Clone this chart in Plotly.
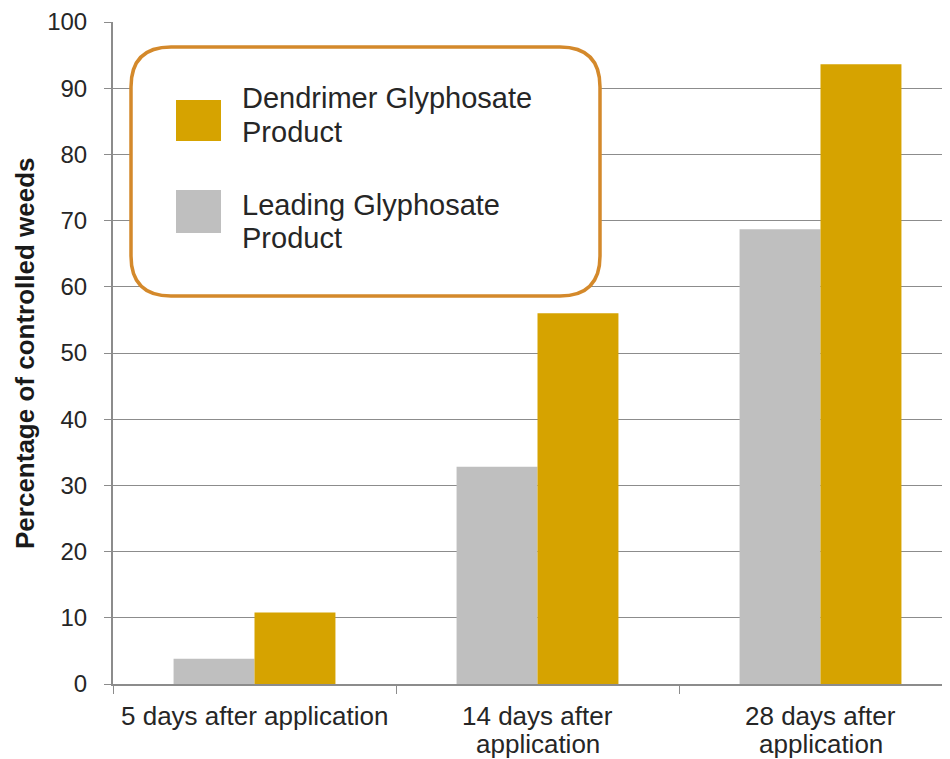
import plotly.graph_objects as go

# data
categories = ["5 days after application", "14 days after application", "28 days after application"]
label_lines = [["5 days after application"], ["14 days after", "application"], ["28 days after", "application"]]
leading_values = [3.8, 32.8, 68.7]
dendrimer_values = [10.8, 56.0, 93.6]
series_names = ["Leading Glyphosate Product", "Dendrimer Glyphosate Product"]
legend_lines = {series_names[1]: ["Dendrimer Glyphosate", "Product"],
                series_names[0]: ["Leading Glyphosate", "Product"]}

GOLD = '#D6A300'
GRAY = '#BFBFBF'
BORDER = '#D4892B'
AXIS = '#8C8C8C'
TEXT = '#262626'
FONT = 'Liberation Sans, Arial, sans-serif'

# the page body adds an 8px offset, so the figure is sized to fill the window from there
OFF = 8
W, H = 942, 751
ML, MR, MT, MB = 105, 0, 14, 75
PW, PH = W - ML - MR, H - MT - MB


def px_x(sx):
    """screen x pixel -> paper x"""
    return (sx - OFF - ML) / PW


def px_y(sy):
    """screen y pixel -> paper y"""
    return (H - MB - (sy - OFF)) / PH


def rounded_rect(x0, y0, x1, y1, r):
    """SVG path in paper coords for a rounded rectangle given in screen pixels"""
    pts = [
        ('M', x0 + r, y0), ('L', x1 - r, y0), ('Q', x1, y0, x1, y0 + r),
        ('L', x1, y1 - r), ('Q', x1, y1, x1 - r, y1), ('L', x0 + r, y1),
        ('Q', x0, y1, x0, y1 - r), ('L', x0, y0 + r), ('Q', x0, y0, x0 + r, y0),
    ]
    out = []
    for p in pts:
        cmd, coords = p[0], p[1:]
        xy = [f"{px_x(coords[i]):.5f},{px_y(coords[i + 1]):.5f}" for i in range(0, len(coords), 2)]
        out.append(cmd + ' '.join(xy))
    return ' '.join(out) + ' Z'


fig = go.Figure()
fig.add_trace(go.Bar(x=categories, y=leading_values, name=series_names[0],
                     marker=dict(color=GRAY, line=dict(width=0))))
fig.add_trace(go.Bar(x=categories, y=dendrimer_values, name=series_names[1],
                     marker=dict(color=GOLD, line=dict(width=0))))

fig.update_layout(
    width=W, height=H,
    margin=dict(l=ML, r=MR, t=MT, b=MB),
    paper_bgcolor='white', plot_bgcolor='white',
    font=dict(family=FONT, size=24, color=TEXT),
    showlegend=False,
    barmode='group', bargap=0.428, bargroupgap=0,
)

fig.update_xaxes(
    type='category', range=[-0.5, 2.4576],
    showline=True, linecolor=AXIS, linewidth=2,
    ticks='outside', tickson='boundaries', ticklen=8, tickcolor=AXIS, tickwidth=1,
    showgrid=False, showticklabels=False,
)
fig.update_yaxes(
    range=[0, 100], dtick=10,
    showline=True, linecolor=AXIS, linewidth=2,
    ticks='outside', ticklen=7, tickcolor=AXIS, tickwidth=1,
    showgrid=True, gridcolor=AXIS, gridwidth=1,
    tickfont=dict(size=24, color=TEXT), ticklabelstandoff=12,
    zeroline=False,
)

# category labels, one line per annotation for tight line spacing
line_y = [716, 744]
for cat, lines in zip(categories, label_lines):
    for i, line in enumerate(lines):
        fig.add_annotation(text=line, xref='x', yref='paper', x=cat, y=px_y(line_y[i]),
                           xanchor='center', yanchor='middle', showarrow=False,
                           font=dict(size=26, color=TEXT, family=FONT))

# y axis title
fig.add_annotation(
    text='<b>Percentage of controlled weeds</b>', textangle=-90,
    xref='paper', yref='paper', x=px_x(25), y=0.5, xanchor='center', yanchor='middle',
    showarrow=False, font=dict(size=26, color='#1a1a1a', family=FONT),
)

# custom legend box with rounded corners
fig.add_shape(type='path', path=rounded_rect(131, 47, 600, 296, 40),
              xref='paper', yref='paper', fillcolor='white',
              line=dict(color=BORDER, width=3.5), layer='above')

legend_items = [(series_names[1], GOLD, 100, 141, [98, 132]),
                (series_names[0], GRAY, 190, 233, [205, 238])]
for name, color, top, bot, ys in legend_items:
    fig.add_shape(type='rect', xref='paper', yref='paper',
                  x0=px_x(176), x1=px_x(221), y0=px_y(bot), y1=px_y(top),
                  fillcolor=color, line=dict(width=0), layer='above')
    for line, ly in zip(legend_lines[name], ys):
        fig.add_annotation(text=line, xref='paper', yref='paper',
                           x=px_x(240), y=px_y(ly),
                           xanchor='left', yanchor='middle', align='left',
                           showarrow=False, font=dict(size=29, color=TEXT, family=FONT))

fig.write_html("out.html")
